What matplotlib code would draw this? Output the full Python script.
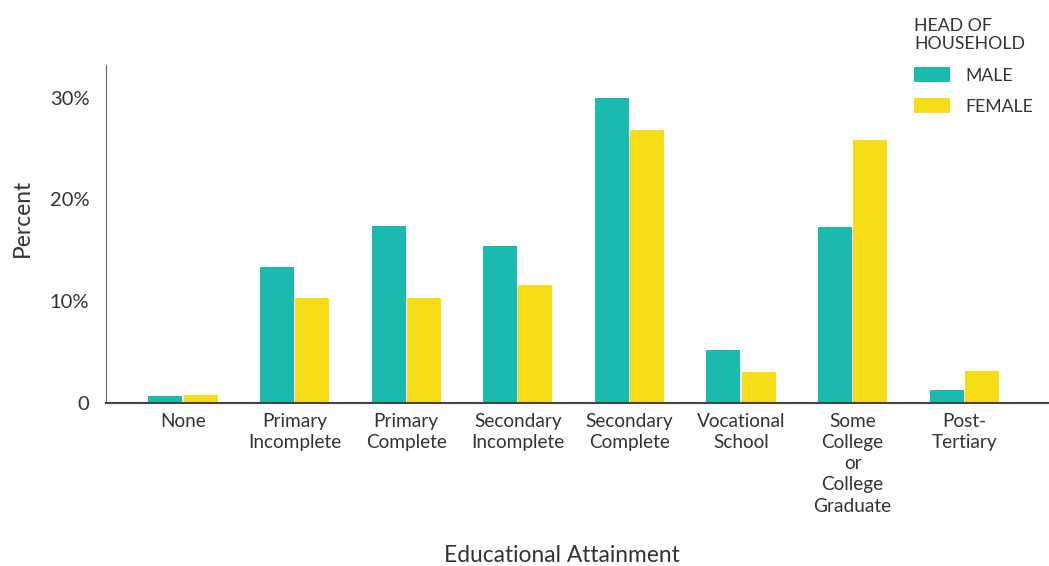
import numpy as np
import matplotlib
matplotlib.use('Agg')
import matplotlib.pyplot as plt

# Share of households by education of the head of household
categories = ['None', 'Primary\nIncomplete', 'Primary\nComplete', 'Secondary\nIncomplete',
              'Secondary\nComplete', 'Vocational\nSchool', 'Some\nCollege\nor\nCollege\nGraduate',
              'Post-\nTertiary']
male = [0.7, 13.4, 17.4, 15.4, 30.0, 5.2, 17.3, 1.3]
female = [0.8, 10.3, 10.3, 11.6, 26.8, 3.0, 25.8, 3.1]
yticks = [0, 10, 20, 30]
ytick_labels = ['0', '10%', '20%', '30%']

TEAL = '#1ABAAE'
YELLOW = '#F7DD16'
TXT = '#333333'

plt.rcParams['font.family'] = ['Lato', 'DejaVu Sans']

fig = plt.figure(figsize=(10.49, 5.66), dpi=100)
ax = fig.add_axes([106/1049, 163/566, 1 - 106/1049, (403-65)/566])

x = np.arange(len(categories))
w = 0.305
ax.bar(x - w/2 - 0.005, male, w, color=TEAL, label='MALE')
ax.bar(x + w/2 + 0.005, female, w, color=YELLOW, label='FEMALE')

ax.set_xlim(-0.69, len(categories) - 1 + 0.76)
ax.set_ylim(0, 33.2)
ax.set_xticks(x)
ax.set_xticklabels(categories, fontsize=13.7, color=TXT, linespacing=1.3)
ax.set_yticks(yticks)
ax.set_yticklabels(ytick_labels, fontsize=14.5, color=TXT)
ax.tick_params(length=0, pad=7)
ax.tick_params(axis='y', pad=12)

for s in ['top', 'right']:
    ax.spines[s].set_visible(False)
ax.spines['left'].set_color('#666666')
ax.spines['bottom'].set_color('#444444')
ax.spines['bottom'].set_linewidth(1.5)

fig.text(562/1049, 1 - 556/566, 'Educational Attainment', ha='center', va='center',
         fontsize=16.4, color=TXT)
fig.text(22/1049, 1 - 218/566, 'Percent', ha='center', va='center', rotation=90,
         fontsize=16.4, color=TXT)

leg = ax.legend(loc='upper left', bbox_to_anchor=(898/1049, 1 - 2/566),
                bbox_transform=fig.transFigure, frameon=False,
                title='HEAD OF\nHOUSEHOLD', alignment='left',
                fontsize=12.7, title_fontsize=12.7,
                handlelength=2.05, handleheight=1.0, handletextpad=0.85,
                labelspacing=0.8)
for t in leg.get_texts():
    t.set_color(TXT)
leg.get_title().set_color(TXT)

fig.savefig('out.png', dpi=100)
